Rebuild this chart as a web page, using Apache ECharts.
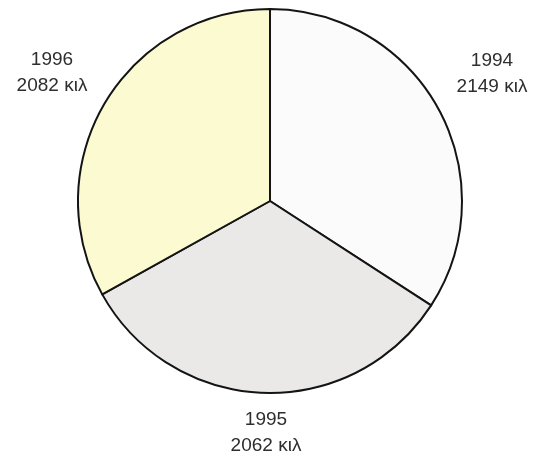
<!DOCTYPE html>
<html>
<head>
<meta charset="utf-8">
<script src="https://cdn.jsdelivr.net/npm/echarts@6/dist/echarts.min.js"></script>
<style>
  html, body { margin: 0; padding: 0; background: #ffffff; }
  #chart { width: 533px; height: 461px; }
</style>
</head>
<body>
<div id="chart"></div>
<script>
// Yearly totals (κιλά)
const years = ['1994', '1995', '1996'];
const amounts = [2149, 2062, 2082];
const unit = 'κιλ';
const sliceColors = ['#fbfbfb', '#ebe8e8', '#fcfad0'];
// Where each year's caption sits outside the pie
const labelSpots = [[492, 74], [266, 433], [52, 73]];

const chart = echarts.init(document.getElementById('chart'), null, { renderer: 'canvas' });

chart.setOption({
  backgroundColor: '#ffffff',
  animation: false,
  series: [{
    type: 'pie',
    center: [270, 201],
    radius: 192,
    startAngle: 90,
    clockwise: true,
    avoidLabelOverlap: false,
    data: years.map((y, i) => ({
      name: y,
      value: amounts[i],
      itemStyle: { color: sliceColors[i] }
    })),
    itemStyle: { borderColor: '#141414', borderWidth: 2 },
    label: {
      show: true,
      position: 'outside',
      formatter: p => p.name + '\n' + p.value + ' ' + unit,
      fontFamily: 'Liberation Sans, Arial, sans-serif',
      fontSize: 19,
      lineHeight: 26,
      color: '#2e2e2e',
      align: 'center'
    },
    labelLine: { show: false },
    labelLayout: params => ({
      x: labelSpots[params.dataIndex][0],
      y: labelSpots[params.dataIndex][1],
      align: 'center',
      verticalAlign: 'middle'
    }),
    emphasis: { disabled: true }
  }]
});
</script>
</body>
</html>
